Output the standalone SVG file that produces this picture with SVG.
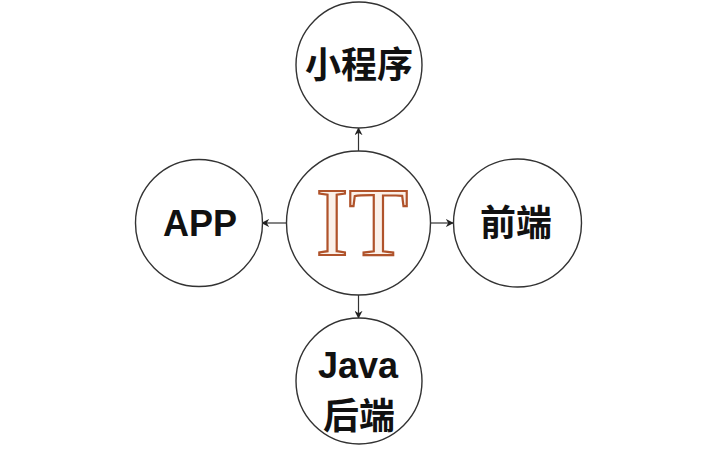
<svg xmlns="http://www.w3.org/2000/svg" width="720" height="450" viewBox="0 0 720 450">
<defs>
<style>
.node{fill:#ffffff;stroke:#333333;stroke-width:1.4}
.lbl{font-family:"Liberation Sans","Noto Sans CJK SC",sans-serif;font-weight:bold;font-size:36px;fill:#111111;text-anchor:middle}
.it{font-family:"Liberation Serif","DejaVu Serif",serif;font-size:98px;fill:#fbf1ea;stroke:#b0532b;stroke-width:2.2;text-anchor:middle}
.edge{stroke:#333333;stroke-width:1.2;fill:none;marker-end:url(#arr)}
</style>
<marker id="arr" viewBox="0 0 10 10" refX="9" refY="5" markerWidth="8" markerHeight="8" markerUnits="userSpaceOnUse" orient="auto">
<path d="M0,0 L10,5 L0,10 L3,5 Z" fill="#222222"/>
</marker>
</defs>
<rect width="720" height="450" fill="#ffffff"/>
<g id="connectors">
<line class="edge" x1="358.5" y1="151" x2="358.5" y2="128"/>
<line class="edge" x1="286" y1="223" x2="262" y2="223"/>
<line class="edge" x1="431" y1="223" x2="453" y2="223"/>
<line class="edge" x1="358.5" y1="295" x2="358.5" y2="318"/>
</g>
<g id="node-it">
<circle class="node" cx="358.5" cy="223" r="72"/>
<text class="it" x="362" y="255">IT</text>
</g>
<g id="node-miniprogram">
<circle class="node" cx="359" cy="65" r="63"/>
<text class="lbl" x="359" y="78">小程序</text>
</g>
<g id="node-app">
<circle class="node" cx="199" cy="223" r="63.5"/>
<text class="lbl" x="200" y="236">APP</text>
</g>
<g id="node-frontend">
<circle class="node" cx="517.5" cy="223" r="64"/>
<text class="lbl" x="516" y="236">前端</text>
</g>
<g id="node-java">
<circle class="node" cx="359" cy="381" r="63"/>
<text class="lbl" x="358" y="378">Java</text>
<text class="lbl" x="359" y="429">后端</text>
</g>
</svg>
